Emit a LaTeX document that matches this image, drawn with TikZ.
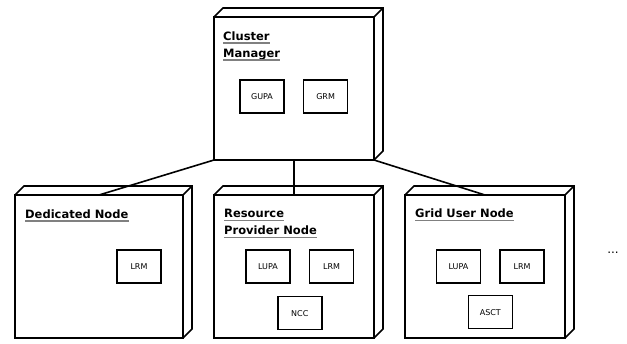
\documentclass[tikz,border=0pt]{standalone}
\usepackage{fontspec}
\setsansfont{DejaVu Sans}
\usetikzlibrary{positioning, calc}

\begin{document}
\begin{tikzpicture}[
        x=1pt, y=1pt,
        node distance=35pt and 31pt,
        host/.style={rectangle, draw, line width=1.6pt, outer sep=0pt, inner sep=0pt, minimum width=160pt, minimum height=143pt},
        part/.style={rectangle, draw, line width=1.6pt, minimum width=44pt, minimum height=33pt, font=\sffamily\fontsize{8}{9}\selectfont},
        ttl/.style={inner sep=0pt, anchor=base west, font=\sffamily\bfseries\fontsize{11.5}{13}\selectfont},
        uline/.style={gray, line width=1.3pt},
        link/.style={line width=1.6pt},
        depth/.style={line width=1.6pt}
    ]
        \useasboundingbox (0,0) rectangle (627,-343);

        % Manager
        \node[host] (cm) at (294,-88.5) {};

        % Nodes below
        \node[host, below=of cm] (rpn) {};
        \node[host, minimum width=168pt, left=of rpn] (ded) {};
        \node[host, right=of rpn] (gun) {};

        % 3D look
        \foreach \n in {cm, ded, rpn, gun} {
            \draw[depth] (\n.north west) -- ++(9,9) -- ($(\n.north east)+(9,9)$) -- ($(\n.south east)+(9,9)$) -- (\n.south east);
            \draw[depth] (\n.north east) -- ++(9,9);
        }

        % Titles
        \node[ttl, below right=23pt and 9pt of cm.north west, anchor=base west] (cmt1) {Cluster};
        \node[ttl, below=17pt of cmt1.base west, anchor=base west] (cmt2) {Manager};
        \node[ttl, below right=23pt and 10pt of ded.north west, anchor=base west] (dedt1) {Dedicated Node};
        \node[ttl, below right=22.5pt and 10pt of rpn.north west, anchor=base west] (rpnt1) {Resource};
        \node[ttl, below=17pt of rpnt1.base west, anchor=base west] (rpnt2) {Provider Node};
        \node[ttl, below right=22.5pt and 10pt of gun.north west, anchor=base west] (gunt1) {Grid User Node};

        \foreach \t in {cmt1, cmt2, dedt1, rpnt1, rpnt2, gunt1}
            \draw[uline] ([yshift=-3pt]\t.base west) -- ([yshift=-3pt]\t.base east);

        % Components
        \node[part] (cmgupa) at ($(cm.center)+(-32,-8)$) {GUPA};
        \node[part, right=18pt of cmgupa] (cmgrm) {GRM};

        \node[part] (dedlrm) at ($(ded.center)+(40,0)$) {LRM};

        \node[part] (rpnlupa) at ($(rpn.center)+(-26,0)$) {LUPA};
        \node[part, right=18pt of rpnlupa] (rpnlrm) {LRM};
        \node[part, anchor=north] (rpnncc) at ($(rpnlupa.south)!0.5!(rpnlrm.south)+(0,-12)$) {NCC};

        \node[part] (gunlupa) at ($(gun.center)+(-26.5,0)$) {LUPA};
        \node[part, right=18pt of gunlupa] (gunlrm) {LRM};
        \node[part, anchor=north] (gunasct) at ($(gunlupa.south)!0.5!(gunlrm.south)+(0,-11)$) {ASCT};

        \node[font=\sffamily\fontsize{12}{14}\selectfont] (more) at (613,-253) {...};

        % Links
        \draw[link] (cm.south west) -- (ded.north);
        \draw[link] (cm.south) -- (rpn.north);
        \draw[link] (cm.south east) -- (gun.north);
    \end{tikzpicture}
\end{document}
